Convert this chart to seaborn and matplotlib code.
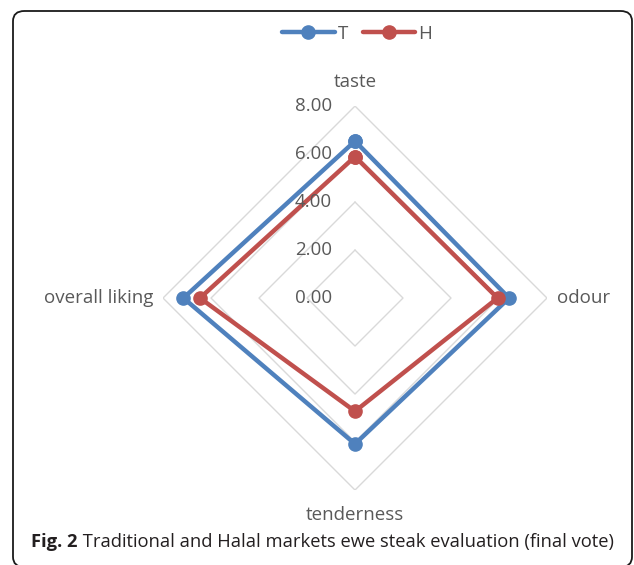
import numpy as np
import matplotlib
matplotlib.use("Agg")
import matplotlib.pyplot as plt
from matplotlib.patches import FancyBboxPatch
import seaborn as sns

categories = ["taste", "odour", "tenderness", "overall liking"]
series_names = ["T", "H"]
t_values = [6.54, 6.42, 6.08, 7.15]
h_values = [5.89, 5.94, 4.72, 6.46]
ticks = [0, 2, 4, 6, 8]
tick_labels = ["0.00", "2.00", "4.00", "6.00", "8.00"]
caption_bold = "Fig. 2"
caption_rest = " Traditional and Halal markets ewe steak evaluation (final vote)"

sns.set_theme(style="white")
plt.rcParams["font.family"] = ["Open Sans", "DejaVu Sans"]

gray = "#595959"
colors = {"T": "#4F81BD", "H": "#C0504D"}
fs = 13.5

fig = plt.figure(figsize=(6.34, 5.65), dpi=100)
ax = fig.add_axes([0.2571, 0.1327, 0.6057, 0.6796], projection="polar")
ax.set_theta_offset(np.pi / 2)
ax.set_theta_direction(-1)

angles = np.linspace(0, 2 * np.pi, len(categories), endpoint=False)
closed_angles = np.append(angles, angles[0])

# diamond grid
for r in ticks[1:]:
    ax.plot(closed_angles, [r] * len(closed_angles), color="#D9D9D9", lw=1.0, zorder=1)

for name, vals in zip(series_names, [t_values, h_values]):
    ax.plot(closed_angles, vals + vals[:1], color=colors[name], lw=3.2,
            marker="o", ms=9.5, label=name, zorder=3)

ax.set_ylim(0, 8)
ax.grid(False)
ax.set_xticks([])
ax.set_yticks([])
ax.spines["polar"].set_visible(False)
ax.patch.set_alpha(0)

for r, lab in zip(ticks, tick_labels):
    ax.annotate(lab, xy=(0, r), xytext=(-23, 0), textcoords="offset pixels",
                ha="right", va="center", fontsize=fs, color=gray)

offsets = [((0, 24), "center"), ((10, 0), "left"), ((0, -25), "center"), ((-10, 0), "right")]
for ang, cat, (off, ha) in zip(angles, categories, offsets):
    ax.annotate(cat, xy=(ang, 8), xytext=off, textcoords="offset pixels",
                ha=ha, va="center", fontsize=fs, color=gray)

leg = fig.legend(loc="center", bbox_to_anchor=(357 / 634, 1 - 34 / 565), ncol=2,
                 frameon=False, handlelength=2.8, handletextpad=0.15,
                 columnspacing=0.8, fontsize=fs)
for txt in leg.get_texts():
    txt.set_color(gray)

box = FancyBboxPatch((13 / 634, -2 / 565), 619 / 634, 556 / 565,
                     boxstyle="round,pad=0,rounding_size=0.018",
                     transform=fig.transFigure, fill=False,
                     edgecolor="#1a1a1a", lw=1.3)
fig.add_artist(box)

t1 = fig.text(31 / 634, 1 - 542 / 565, caption_bold, fontsize=13.2,
              fontweight="bold", color="#231f20", va="center", ha="left")
ax.annotate(caption_rest, xy=(1, 0), xycoords=t1, xytext=(0, 0),
            textcoords="offset pixels", va="bottom", ha="left",
            fontsize=13.2, color="#231f20", annotation_clip=False)

fig.savefig("out.png", dpi=100)
